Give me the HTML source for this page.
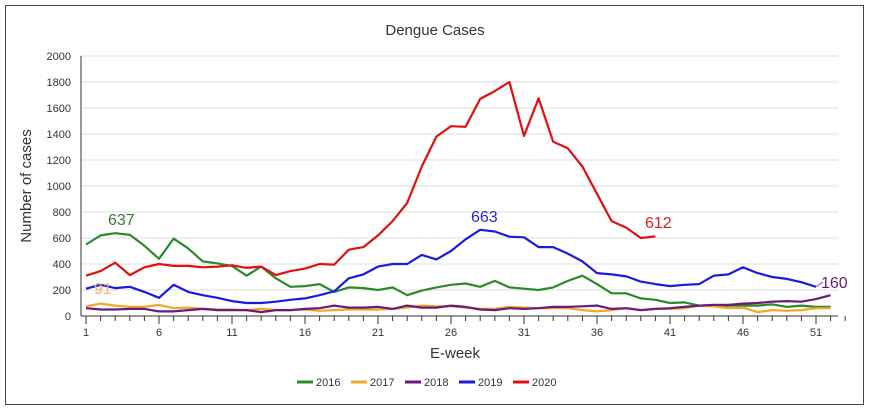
<!DOCTYPE html>
<html><head><meta charset="utf-8"><style>
html,body{margin:0;padding:0;background:#fff;}
svg{display:block;font-family:"Liberation Sans",Arial,sans-serif;}
</style></head><body>
<svg id="c" width="869" height="412" viewBox="0 0 869 412" xmlns="http://www.w3.org/2000/svg">
<rect x="5.5" y="5.5" width="858" height="399" fill="#fff" stroke="#444" stroke-width="1"/>
<text x="435" y="35" font-size="15" fill="#333" text-anchor="middle">Dengue Cases</text>
<text transform="translate(31,186) rotate(-90)" font-size="15" fill="#333" text-anchor="middle">Number of cases</text>
<text x="455" y="358" font-size="15" fill="#333" text-anchor="middle">E-week</text>
<g id="grid"></g>
<g id="series"></g>
<text x="108" y="225" font-size="16" fill="#3a7a3a">637</text>
<text x="471" y="222" font-size="16" fill="#2a1fd8">663</text>
<text x="645" y="228" font-size="16" fill="#d82020">612</text>
<text x="821" y="288" font-size="16" fill="#6a1a7a">160</text>
<text x="94" y="294" font-size="16" fill="#f0b070">91</text>
<g font-size="11" fill="#333">
<line x1="297" y1="382" x2="313" y2="382" stroke="#2a8a2a" stroke-width="3"/><text x="316" y="386">2016</text>
<line x1="351" y1="382" x2="367" y2="382" stroke="#f5a623" stroke-width="3"/><text x="370" y="386">2017</text>
<line x1="405" y1="382" x2="421" y2="382" stroke="#6a1a7a" stroke-width="3"/><text x="424" y="386">2018</text>
<line x1="459" y1="382" x2="475" y2="382" stroke="#1a1ae0" stroke-width="3"/><text x="478" y="386">2019</text>
<line x1="513" y1="382" x2="529" y2="382" stroke="#e01010" stroke-width="3"/><text x="532" y="386">2020</text>
</g>
</svg>
<script>
var NS="http://www.w3.org/2000/svg";
function X(w){return 86+(w-1)*14.6;}
function Y(v){return 316-v*0.13;}
function el(t,a,p){var e=document.createElementNS(NS,t);for(var k in a)e.setAttribute(k,a[k]);p.appendChild(e);return e;}
var g=document.getElementById("grid");
for(var v=0;v<=2000;v+=200){var y=Y(v);
 if(v>0)el("line",{x1:81,x2:838,y1:y,y2:y,stroke:"#ddd","stroke-width":1},g);
 var t=el("text",{x:71,y:y+4,"font-size":11,fill:"#333","text-anchor":"end"},g);t.textContent=v;}
el("line",{x1:81,x2:81,y1:56,y2:316,stroke:"#333"},g);
el("line",{x1:81,x2:838,y1:316,y2:316,stroke:"#333"},g);
for(var w=1;w<=53;w++){var x=X(w);
 el("line",{x1:x,x2:x,y1:316,y2:(w-1)%5==0?324:321,stroke:"#333"},g);
 if((w-1)%5==0&&w<=51){var t=el("text",{x:x,y:336,"font-size":11,fill:"#333","text-anchor":"middle"},g);t.textContent=w;}}
var D={
"#2a8a2a":[550,620,637,625,540,440,595,520,420,405,385,310,380,290,225,230,245,185,220,215,200,220,160,195,220,240,250,225,270,220,210,200,220,270,310,245,175,175,135,125,100,105,80,80,80,80,80,90,70,80,70,70],
"#f5a623":[75,95,80,70,70,85,60,65,55,50,50,45,55,45,45,50,40,45,50,50,50,55,65,80,75,75,65,55,55,70,65,60,60,60,45,35,45,60,45,55,55,60,80,75,60,65,30,45,40,45,60,60],
"#6a1a7a":[60,50,50,55,55,35,35,45,55,45,45,45,30,45,45,55,60,80,65,65,70,55,80,65,65,80,70,50,45,60,55,60,70,70,75,80,55,60,45,55,60,70,80,85,85,95,100,110,115,110,130,160],
"#1a1ae0":[210,240,215,225,185,140,240,185,160,140,115,100,100,110,125,135,160,190,290,320,380,400,400,470,435,500,590,663,650,610,605,530,530,480,420,330,320,305,265,245,230,240,245,310,320,375,330,300,285,260,225],
"#e01010":[310,345,410,315,375,400,385,385,375,380,390,370,380,315,345,365,400,395,510,530,620,730,870,1150,1380,1460,1455,1670,1730,1800,1385,1675,1340,1290,1150,940,730,680,600,612]};
var s=document.getElementById("series");
for(var c in D){var p=D[c].map(function(v,i){return X(i+1).toFixed(1)+","+Y(v).toFixed(1);}).join(" ");
 el("polyline",{points:p,fill:"none",stroke:c,"stroke-width":2.2,"stroke-linejoin":"round"},s);}
el("line",{x1:X(51),y1:Y(225),x2:823,y2:282,stroke:"#a080e0","stroke-width":1.5},s);
</script>
</body></html>
